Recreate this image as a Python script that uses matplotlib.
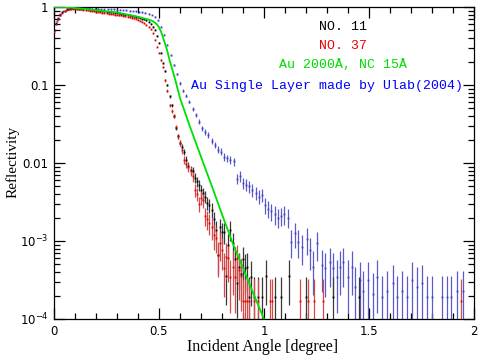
import numpy as np
import matplotlib
matplotlib.use("Agg")
import matplotlib.pyplot as plt
from matplotlib.ticker import FixedLocator, FixedFormatter, LogLocator, NullFormatter

# ---------------- data ----------------
x_no11 = [0.00, 0.01, 0.02, 0.03, 0.04, 0.05, 0.06, 0.07, 0.08, 0.09,
          0.10, 0.11, 0.12, 0.13, 0.14, 0.15, 0.16, 0.17, 0.18, 0.19,
          0.20, 0.21, 0.22, 0.23, 0.24, 0.25, 0.26, 0.27, 0.28, 0.29,
          0.30, 0.31, 0.32, 0.33, 0.34, 0.35, 0.36, 0.37, 0.38, 0.39,
          0.40, 0.41, 0.42, 0.43, 0.44, 0.45, 0.46, 0.47, 0.48, 0.49,
          0.50, 0.51, 0.52, 0.53, 0.54, 0.55, 0.56, 0.57, 0.58, 0.59,
          0.60, 0.61, 0.62, 0.63, 0.64, 0.65, 0.66, 0.67, 0.68, 0.69,
          0.70, 0.71, 0.72, 0.73, 0.74, 0.75, 0.76, 0.77, 0.78, 0.79,
          0.80, 0.81, 0.82, 0.83, 0.84, 0.85, 0.86, 0.87, 0.88, 0.89,
          0.90, 0.91, 0.92, 0.93, 0.94, 0.95, 0.97, 0.99, 1.01, 1.05,
          1.08, 1.12, 1.20, 1.33, 1.45]
r_no11 = [0.50, 0.62, 0.72, 0.80, 0.86, 0.90, 0.93, 0.95, 0.96, 0.965,
          0.965, 0.96, 0.955, 0.95, 0.945, 0.94, 0.935, 0.93, 0.925, 0.92,
          0.91, 0.905, 0.90, 0.89, 0.88, 0.875, 0.87, 0.86, 0.855, 0.85,
          0.84, 0.83, 0.82, 0.81, 0.80, 0.79, 0.78, 0.77, 0.76, 0.75,
          0.74, 0.73, 0.71, 0.70, 0.68, 0.65, 0.61, 0.56, 0.51, 0.43,
          0.35, 0.26, 0.19, 0.15, 0.10, 0.072, 0.055, 0.040, 0.028, 0.022,
          0.018, 0.016, 0.014, 0.011, 0.0092, 0.0082, 0.0078, 0.0065, 0.0058, 0.0052,
          0.0045, 0.0041, 0.0037, 0.0031, 0.0029, 0.0025, 0.0019, 0.0014, 0.00066, 0.0015,
          0.0013, 0.0013, 0.00036, 0.0009, 0.0014, 0.00093, 0.00058, 0.00029, 0.00047, 0.00038,
          0.00058, 0.00045, 0.00047, 0.00019, 0.00035, 0.00019, 0.00019, 0.00019, 0.00036, 0.00019,
          0.00019, 0.00036, 0.00019, 0.00019, 0.00019]

x_no37 = [0.00, 0.01, 0.02, 0.03, 0.04, 0.05, 0.06, 0.07, 0.08, 0.09,
          0.10, 0.11, 0.12, 0.13, 0.14, 0.15, 0.16, 0.17, 0.18, 0.19,
          0.20, 0.21, 0.22, 0.23, 0.24, 0.25, 0.26, 0.27, 0.28, 0.29,
          0.30, 0.31, 0.32, 0.33, 0.34, 0.35, 0.36, 0.37, 0.38, 0.39,
          0.40, 0.41, 0.42, 0.43, 0.44, 0.45, 0.46, 0.47, 0.48, 0.49,
          0.50, 0.51, 0.52, 0.53, 0.54, 0.55, 0.56, 0.57, 0.58, 0.59,
          0.60, 0.61, 0.62, 0.63, 0.64, 0.65, 0.66, 0.67, 0.68, 0.69,
          0.70, 0.71, 0.72, 0.73, 0.74, 0.75, 0.76, 0.77, 0.78, 0.79,
          0.80, 0.81, 0.82, 0.83, 0.84, 0.85, 0.86, 0.87, 0.88, 0.89,
          0.90, 0.91, 0.92, 0.93, 0.95, 0.97, 1.03, 1.04, 1.17, 1.21,
          1.24, 1.28, 1.94]
r_no37 = [0.48, 0.60, 0.70, 0.79, 0.85, 0.89, 0.92, 0.93, 0.94, 0.945,
          0.945, 0.94, 0.935, 0.93, 0.92, 0.91, 0.905, 0.90, 0.89, 0.88,
          0.87, 0.865, 0.86, 0.85, 0.84, 0.83, 0.825, 0.82, 0.81, 0.80,
          0.79, 0.785, 0.78, 0.77, 0.76, 0.75, 0.74, 0.73, 0.72, 0.705,
          0.69, 0.67, 0.65, 0.62, 0.59, 0.56, 0.52, 0.46, 0.38, 0.31,
          0.26, 0.21, 0.17, 0.115, 0.085, 0.055, 0.046, 0.040, 0.029, 0.022,
          0.018, 0.0145, 0.011, 0.0098, 0.0089, 0.0078, 0.0068, 0.0045, 0.0040, 0.0030,
          0.0036, 0.0034, 0.0021, 0.0019, 0.0017, 0.0015, 0.0012, 0.0011, 0.00066, 0.00093,
          0.00076, 0.00045, 0.00063, 0.0006, 0.00035, 0.00047, 0.00035, 0.0006, 0.00043, 0.00036,
          0.00017, 0.00017, 0.00017, 0.00017, 0.00017, 0.00017, 0.00017, 0.00017, 0.00017, 0.00017,
          0.00017, 0.00017, 0.00017]

x_ulab = [0.000, 0.015, 0.030, 0.045, 0.060, 0.075, 0.090, 0.105, 0.120, 0.135,
          0.150, 0.165, 0.180, 0.195, 0.210, 0.225, 0.240, 0.255, 0.270, 0.285,
          0.300, 0.315, 0.330, 0.345, 0.360, 0.375, 0.390, 0.405, 0.420, 0.435,
          0.450, 0.465, 0.480, 0.495, 0.510, 0.525, 0.540, 0.555, 0.570, 0.585,
          0.600, 0.615, 0.630, 0.645, 0.660, 0.675, 0.690, 0.705, 0.720, 0.735,
          0.750, 0.765, 0.780, 0.795, 0.810, 0.825, 0.840, 0.855, 0.870, 0.885,
          0.900, 0.915, 0.930, 0.945, 0.960, 0.975, 0.990, 1.005, 1.020, 1.035,
          1.050, 1.065, 1.080, 1.095, 1.116, 1.130, 1.148, 1.163, 1.180, 1.203,
          1.220, 1.235, 1.250, 1.275, 1.290, 1.314, 1.330, 1.346, 1.362, 1.378,
          1.400, 1.418, 1.433, 1.457, 1.473, 1.497, 1.520, 1.537, 1.560, 1.584,
          1.616, 1.632, 1.656, 1.680, 1.703, 1.727, 1.750, 1.775, 1.800, 1.846,
          1.870, 1.890, 1.917, 1.946]
r_ulab = [0.50, 0.67, 0.81, 0.89, 0.94, 0.965, 0.975, 0.975, 0.97, 0.965,
          0.96, 0.955, 0.955, 0.95, 0.945, 0.94, 0.94, 0.935, 0.93, 0.93,
          0.925, 0.92, 0.915, 0.91, 0.90, 0.89, 0.88, 0.87, 0.86, 0.84,
          0.82, 0.79, 0.75, 0.68, 0.56, 0.44, 0.33, 0.24, 0.18, 0.14,
          0.105, 0.085, 0.073, 0.061, 0.049, 0.041, 0.034, 0.028, 0.025, 0.023,
          0.019, 0.017, 0.0148, 0.014, 0.012, 0.0115, 0.011, 0.0105, 0.0063, 0.0068,
          0.0055, 0.0053, 0.0050, 0.0045, 0.0041, 0.0037, 0.0039, 0.0029, 0.0026, 0.0024,
          0.0022, 0.0020, 0.0021, 0.0022, 0.0020, 0.00098, 0.00126, 0.00098, 0.00085, 0.00107,
          0.00076, 0.00047, 0.00093, 0.00049, 0.00045, 0.00054, 0.00045, 0.00035, 0.00047, 0.00054,
          0.00035, 0.00047, 0.00026, 0.00032, 0.00023, 0.00032, 0.00021, 0.00035, 0.00019, 0.00023,
          0.00029, 0.00019, 0.00023, 0.00019, 0.00032, 0.00026, 0.00029, 0.00019, 0.00019, 0.00019,
          0.00019, 0.00019, 0.00023, 0.00023]

# model curve: Au 2000A, NC 15A
x_model = [0.00, 0.05, 0.10, 0.15, 0.20, 0.25, 0.30, 0.35, 0.40, 0.45,
           0.47, 0.48, 0.49, 0.50, 0.51, 0.52, 0.53, 0.54, 0.55, 0.56,
           0.58, 0.60, 0.65, 0.70, 0.75, 0.80, 0.85, 0.90, 0.95, 1.00, 1.005]
r_model = [1.0, 1.0, 0.97, 0.94, 0.91, 0.88, 0.85, 0.80, 0.75, 0.69,
           0.66, 0.63, 0.60, 0.55, 0.48, 0.40, 0.33, 0.27, 0.21, 0.17,
           0.11, 0.068, 0.028, 0.012, 0.0052, 0.0022, 0.00095, 0.00045, 0.00021, 0.00010, 0.00009]

# Poisson-like normalisation (reflectivity per count) of each measurement
norm_no11 = 1.2e-4
norm_no37 = 1.5e-4
norm_ulab = 1.5e-4

labels = ["NO. 11", "NO. 37", "Au 2000\u00c5, NC 15\u00c5", "Au Single Layer made by Ulab(2004)"]
colors_text = ["black", "#ee0000", "#00dd00", "#0000ff"]

x_ticks = [0, 0.5, 1, 1.5, 2]
x_ticklabels = ["0", "0.5", "1", "1.5", "2"]
y_ticks = [1e-4, 1e-3, 1e-2, 1e-1, 1]
y_ticklabels = [r"10$^{-4}$", r"10$^{-3}$", "0.01", "0.1", "1"]

# ---------------- figure ----------------
W, H = 489, 364
fig = plt.figure(figsize=(W / 100, H / 100), dpi=100)
ax = fig.add_axes([54 / W, 45 / H, 420 / W, 312 / H])
ax.set_xlim(0, 2)
ax.set_ylim(1e-4, 1)
ax.set_yscale("log")

YMIN = 1e-4


def draw_series(x, r, norm, bar_color, dot_color):
    x = np.asarray(x)
    r = np.asarray(r)
    sig = np.sqrt(r * norm)
    lo = np.maximum(r - sig, YMIN * 0.5)
    hi = r + sig
    ax.vlines(x, lo, hi, colors=bar_color, linewidth=0.9, zorder=2)
    ax.plot(x, r, linestyle="none", marker="s", markersize=1.3,
            color=dot_color, markeredgewidth=0, zorder=3)


draw_series(x_ulab, r_ulab, norm_ulab, "#5a5ac8", "#4040c0")
draw_series(x_no11, r_no11, norm_no11, "#3a3a3a", "black")
draw_series(x_no37, r_no37, norm_no37, "#d84848", "#e00000")
ax.plot(x_model, r_model, color="#00e000", linewidth=1.3, zorder=4)

# ticks
ax.xaxis.set_major_locator(FixedLocator(x_ticks))
ax.xaxis.set_major_formatter(FixedFormatter(x_ticklabels))
ax.xaxis.set_minor_locator(FixedLocator(np.arange(0, 2.01, 0.1)))
ax.yaxis.set_major_locator(FixedLocator(y_ticks))
ax.yaxis.set_major_formatter(FixedFormatter(y_ticklabels))
ax.yaxis.set_minor_locator(LogLocator(base=10, subs=np.arange(2, 10)))
ax.yaxis.set_minor_formatter(NullFormatter())
ax.tick_params(which="both", direction="in", top=True, right=True,
               width=0.9, colors="black")
ax.tick_params(which="major", length=8, labelsize=8.5, pad=4)
ax.tick_params(which="minor", length=4)
for lab in ax.get_xticklabels() + ax.get_yticklabels():
    lab.set_family("DejaVu Sans")
for s in ax.spines.values():
    s.set_linewidth(0.9)

# axis titles placed explicitly (pixel positions from the reference)
fig.text(263 / W, 1 - 347 / H, "Incident Angle [degree]", family="Liberation Serif",
         fontsize=11.5, ha="center", va="center")
fig.text(13 / W, 1 - 162 / H, "Reflectivity", family="Liberation Serif",
         fontsize=11, ha="center", va="center", rotation=90)

# legend texts
text_pos = [(343, 27), (343, 46), (343, 65), (327, 86)]
for (px, py), t, c in zip(text_pos, labels, colors_text):
    fig.text(px / W, 1 - py / H, t, color=c, ha="center", va="center",
             family="Liberation Mono", fontsize=9.5)

fig.savefig("out.png", dpi=100)
